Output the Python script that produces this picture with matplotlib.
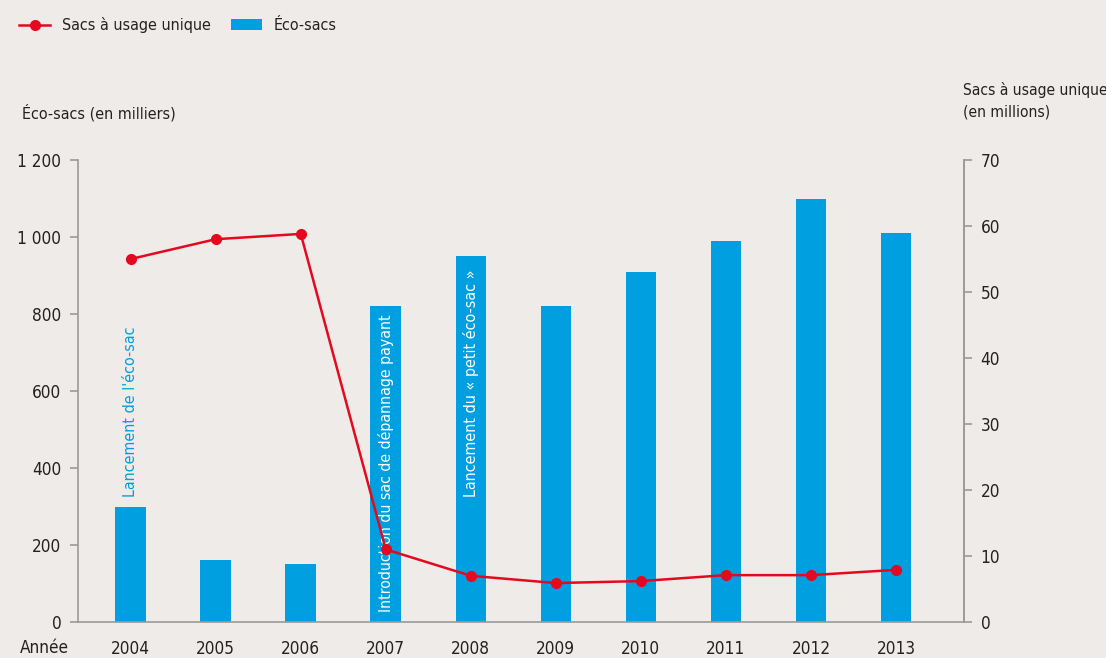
import matplotlib
matplotlib.use('Agg')
import matplotlib.pyplot as plt
from matplotlib import font_manager
from matplotlib.lines import Line2D
from matplotlib.patches import Patch
from matplotlib.ticker import FuncFormatter

# Prefer a condensed face if one is installed
condensed = [f for f in font_manager.fontManager.ttflist
             if f.name == 'DejaVu Sans' and str(f.stretch) in ('condensed', 'semi-condensed')
             and f.style == 'normal']
plt.rcParams['font.family'] = ['DejaVu Sans']
if condensed:
    plt.rcParams['font.stretch'] = 'condensed'
    FS = 11.5
else:
    FS = 10.5

# Colors
BG = '#efebe8'
BLUE = '#009fe0'
RED = '#e30a20'
TEXT = '#222222'
AXIS = '#9a9a9a'

# Data
years = ['2004', '2005', '2006', '2007', '2008', '2009', '2010', '2011', '2012', '2013']
eco_sacs = [300, 160, 150, 820, 950, 820, 910, 990, 1100, 1010]          # milliers
sacs_unique = [55, 58, 58.8, 11, 7, 5.9, 6.2, 7.1, 7.1, 7.9]             # millions
left_ticks = [0, 200, 400, 600, 800, 1000, 1200]
right_ticks = [0, 10, 20, 30, 40, 50, 60, 70]

fig = plt.figure(figsize=(11.06, 6.58), dpi=100)
fig.patch.set_facecolor(BG)
ax = fig.add_axes([78/1106, 36/658, (964-78)/1106, (622-160)/658])
ax.set_facecolor(BG)

x = list(range(len(years)))
ax.bar(x, eco_sacs, width=0.36, color=BLUE, zorder=2)
ax.set_xlim(-0.62, 9.8)
ax.set_ylim(0, 1200)
ax.set_yticks(left_ticks)
ax.yaxis.set_major_formatter(FuncFormatter(lambda v, p: f'{int(v):,}'.replace(',', ' ')))
ax.set_xticks(x)
ax.set_xticklabels(years)

ax.spines['top'].set_visible(False)
for s in ['left', 'bottom', 'right']:
    ax.spines[s].set_color(AXIS)
    ax.spines[s].set_linewidth(1.2)
ax.tick_params(axis='y', colors=AXIS, labelcolor=TEXT, labelsize=FS + 0.8, length=6, width=1.2, pad=6)
ax.tick_params(axis='x', length=0, labelcolor=TEXT, labelsize=FS + 0.8, pad=13)

# Annotations
ax.text(0, 325, "Lancement de l'éco-sac", rotation=90, ha='center', va='bottom',
        color=BLUE, fontsize=FS, zorder=3)
ax.text(3, 25, 'Introduction du sac de dépannage payant', rotation=90, ha='center', va='bottom',
        color='white', fontsize=FS - 0.2, zorder=3)
ax.text(4, 325, 'Lancement du « petit éco-sac »', rotation=90, ha='center', va='bottom',
        color='white', fontsize=FS, zorder=3)

# Right axis
ax2 = ax.twinx()
ax2.plot(x, sacs_unique, color=RED, linewidth=1.8, marker='o', markersize=7, zorder=4)
ax2.set_ylim(0, 70)
ax2.set_yticks(right_ticks)
for s in ['top', 'left', 'bottom']:
    ax2.spines[s].set_visible(False)
ax2.spines['right'].set_color(AXIS)
ax2.spines['right'].set_linewidth(1.2)
ax2.tick_params(axis='y', colors=AXIS, labelcolor=TEXT, labelsize=FS + 0.8, length=6, width=1.2, pad=6)

# Axis titles
fig.text(22/1106, 1 - 113/658, 'Éco-sacs (en milliers)', ha='left', va='center', fontsize=FS, color=TEXT)
fig.text(963/1106, 1 - 101/658, 'Sacs à usage unique\n(en millions)', ha='left', va='center',
         fontsize=FS - 0.3, color=TEXT, linespacing=1.5)
fig.text(20/1106, 1 - 648/658, 'Année', ha='left', va='center', fontsize=FS + 0.8, color=TEXT)

# Legend
handles = [Line2D([0], [0], color=RED, linewidth=1.8, marker='o', markersize=7),
           Patch(facecolor=BLUE, edgecolor='none')]
leg = fig.legend(handles, ['Sacs à usage unique', 'Éco-sacs'], loc='center left',
                 bbox_to_anchor=(5/1106, 1 - 25/658), ncol=2, frameon=False,
                 fontsize=FS, handlelength=1.9, handleheight=0.65, columnspacing=1.3,
                 handletextpad=0.75)
for t in leg.get_texts():
    t.set_color(TEXT)

fig.savefig('out.png', dpi=100, facecolor=BG)
